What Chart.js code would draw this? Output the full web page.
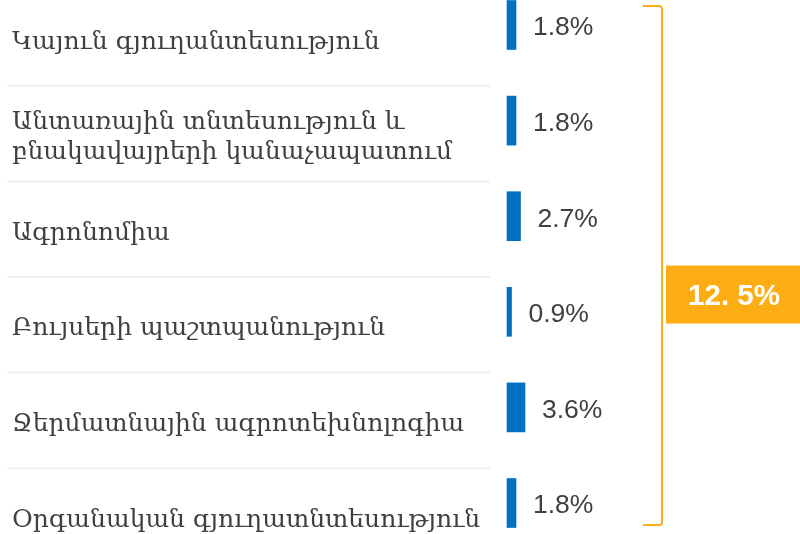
<!DOCTYPE html>
<html>
<head>
<meta charset="utf-8">
<script src="https://cdn.jsdelivr.net/npm/chart.js"></script>
<style>
  html, body { margin: 0; padding: 0; background: #ffffff; }
  #wrap { width: 800px; height: 534px; }
</style>
</head>
<body>
<div id="wrap"><canvas id="shareChart"></canvas></div>
<script>
const categories = [
    'Կայուն գյուղանտեսություն',
    ['Անտառային տնտեսություն և', 'բնակավայրերի կանաչապատում'],
    'Ագրոնոմիա',
    'Բույսերի պաշտպանություն',
    'Ջերմատնային ագրոտեխնոլոգիա',
    'Օրգանական գյուղատնտեսություն'
];
const shares = [1.8, 1.8, 2.7, 0.9, 3.6, 1.8];
const totalLabel = '12. 5%';

const BLUE = '#0070C0';
const ORANGE = '#FDAD14';
const TEXT = '#404040';

// light separators between the label rows (they sit a bit lower than the bar gaps)
const rowLines = {
    id: 'rowLines',
    beforeDatasetsDraw(chart) {
        const y = chart.scales.y;
        const ctx = chart.ctx;
        ctx.save();
        ctx.strokeStyle = '#efefef';
        ctx.lineWidth = 2;
        for (let i = 0; i < categories.length - 1; i++) {
            const py = (y.getPixelForValue(i) + y.getPixelForValue(i + 1)) / 2 + 13;
            ctx.beginPath();
            ctx.moveTo(7, py);
            ctx.lineTo(490, py);
            ctx.stroke();
        }
        ctx.restore();
    }
};

const valueLabels = {
    id: 'valueLabels',
    afterDatasetsDraw(chart) {
        const ctx = chart.ctx;
        const meta = chart.getDatasetMeta(0);
        ctx.save();
        ctx.font = '26.5px "Liberation Sans", Arial, sans-serif';
        ctx.fillStyle = TEXT;
        ctx.textBaseline = 'middle';
        meta.data.forEach((bar, i) => {
            ctx.fillText(shares[i].toFixed(1) + '%', bar.x + 17, bar.y + 3);
        });
        ctx.restore();
    }
};

const totalBracket = {
    id: 'totalBracket',
    afterDraw(chart) {
        const y = chart.scales.y;
        const ctx = chart.ctx;
        const top = y.getPixelForValue(0) - 19;
        const bottom = y.getPixelForValue(categories.length - 1) + 22;
        const x0 = 643, x1 = 662;
        ctx.save();
        ctx.strokeStyle = ORANGE;
        ctx.lineWidth = 2;
        ctx.beginPath();
        ctx.moveTo(x0, top);
        ctx.arcTo(x1, top, x1, top + 10, 3);
        ctx.arcTo(x1, bottom, x0, bottom, 3);
        ctx.lineTo(x0, bottom);
        ctx.stroke();

        const cy = (top + bottom) / 2 + 29;
        ctx.fillStyle = ORANGE;
        ctx.fillRect(666, cy - 29, 134, 58);
        ctx.fillStyle = '#ffffff';
        ctx.font = 'bold 29.5px "Liberation Sans", Arial, sans-serif';
        ctx.textAlign = 'center';
        ctx.textBaseline = 'middle';
        ctx.fillText(totalLabel, 734, cy + 2);
        ctx.restore();
    }
};

const ctx = document.getElementById('shareChart').getContext('2d');
new Chart(ctx, {
    type: 'bar',
    data: {
        labels: categories,
        datasets: [{
            data: shares,
            backgroundColor: BLUE,
            borderWidth: 0,
            barThickness: 49,
            clip: false
        }]
    },
    options: {
        indexAxis: 'y',
        responsive: true,
        maintainAspectRatio: false,
        animation: false,
        layout: { padding: { left: 12, top: 25, bottom: 31, right: 0 } },
        plugins: {
            legend: { display: false },
            tooltip: { enabled: false }
        },
        scales: {
            x: {
                display: false,
                min: 0,
                max: 58.6
            },
            y: {
                offset: false,
                grid: { display: false },
                border: { display: false },
                afterFit(scale) { scale.width = 495; },
                ticks: {
                    crossAlign: 'far',
                    labelOffset: 17,
                    color: TEXT,
                    font: { family: '"DejaVu Serif", serif', size: 25, lineHeight: 1.2 }
                }
            }
        }
    },
    plugins: [rowLines, valueLabels, totalBracket]
});
</script>
</body>
</html>
